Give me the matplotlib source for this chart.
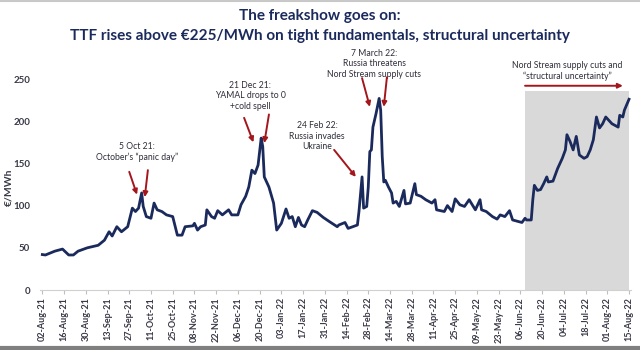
import matplotlib
matplotlib.use('Agg')
import matplotlib.pyplot as plt
import matplotlib.dates as mdates
import pandas as pd

plt.rcParams['font.family'] = ['Lato', 'DejaVu Sans']

# TTF front-month price, EUR/MWh
dates = [
    '2021-08-02', '2021-08-04', '2021-08-10', '2021-08-15', '2021-08-19', '2021-08-22',
    '2021-08-25', '2021-08-31', '2021-09-07', '2021-09-11', '2021-09-14', '2021-09-16',
    '2021-09-19', '2021-09-22', '2021-09-26', '2021-09-29', '2021-10-01', '2021-10-03',
    '2021-10-05', '2021-10-06', '2021-10-08', '2021-10-11', '2021-10-13', '2021-10-15',
    '2021-10-18', '2021-10-21', '2021-10-25', '2021-10-28', '2021-10-31', '2021-11-02',
    '2021-11-07', '2021-11-08', '2021-11-10', '2021-11-12', '2021-11-15', '2021-11-16',
    '2021-11-19', '2021-11-21', '2021-11-23', '2021-11-26', '2021-11-30', '2021-12-02',
    '2021-12-06', '2021-12-08', '2021-12-11', '2021-12-13', '2021-12-15', '2021-12-17',
    '2021-12-19', '2021-12-21', '2021-12-22', '2021-12-23', '2021-12-26', '2021-12-29',
    '2021-12-31', '2022-01-03', '2022-01-06', '2022-01-08', '2022-01-10', '2022-01-12',
    '2022-01-14', '2022-01-16', '2022-01-18', '2022-01-20', '2022-01-23', '2022-01-26',
    '2022-01-30', '2022-02-03', '2022-02-08', '2022-02-09', '2022-02-13', '2022-02-15',
    '2022-02-18', '2022-02-21', '2022-02-22', '2022-02-24', '2022-02-25', '2022-02-27',
    '2022-02-28', '2022-03-01', '2022-03-02', '2022-03-03', '2022-03-05', '2022-03-07',
    '2022-03-08', '2022-03-09', '2022-03-10', '2022-03-11', '2022-03-13', '2022-03-15',
    '2022-03-16', '2022-03-18', '2022-03-20', '2022-03-23', '2022-03-24', '2022-03-27',
    '2022-03-30', '2022-03-31', '2022-04-03', '2022-04-06', '2022-04-10', '2022-04-12',
    '2022-04-13', '2022-04-18', '2022-04-20', '2022-04-23', '2022-04-25', '2022-04-28',
    '2022-05-01', '2022-05-04', '2022-05-08', '2022-05-11', '2022-05-12', '2022-05-15',
    '2022-05-19', '2022-05-22', '2022-05-24', '2022-05-27', '2022-05-30', '2022-06-01',
    '2022-06-05', '2022-06-07', '2022-06-09', '2022-06-10', '2022-06-13', '2022-06-14',
    '2022-06-15', '2022-06-17', '2022-06-19', '2022-06-21', '2022-06-23', '2022-06-24',
    '2022-06-27', '2022-06-30', '2022-07-03', '2022-07-05', '2022-07-06', '2022-07-08',
    '2022-07-10', '2022-07-12', '2022-07-14', '2022-07-17', '2022-07-19', '2022-07-21',
    '2022-07-23', '2022-07-25', '2022-07-27', '2022-07-29', '2022-07-31', '2022-08-04',
    '2022-08-08', '2022-08-09', '2022-08-11', '2022-08-12', '2022-08-15',
]
prices = [
    42, 41.5, 46, 48.5, 41.5, 41.5,
    46, 50, 53, 59, 69, 64,
    75, 69, 75, 97, 93, 97,
    115, 99, 87, 85, 103, 95,
    93, 89, 87, 65, 65, 75,
    76, 79, 71, 75, 77, 95,
    87, 85, 94, 89, 95, 89,
    89, 101, 111, 122, 142, 138,
    148, 180, 170, 134, 122, 103,
    71, 79, 96, 85, 87, 75,
    86, 77, 75, 83, 94, 92,
    86, 81, 75, 77, 80, 73,
    75, 77, 93, 134, 97, 99,
    122, 164, 166, 193, 209, 227,
    213, 158, 128, 130, 122, 115,
    103, 105, 99, 118, 102, 103,
    126, 113, 111, 107, 103, 107,
    95, 93, 100, 93, 108, 101,
    99, 107, 95, 107, 95, 93,
    87, 84, 89, 87, 94, 83,
    81, 80, 85, 83, 83, 107,
    124, 118, 119, 126, 134, 128,
    129, 144, 156, 166, 184, 176,
    166, 182, 160, 156, 158, 166,
    178, 205, 192, 197, 205, 197,
    193, 207, 205, 213, 226,
]

tick_start = '2021-08-02'
tick_end = '2022-08-15'
shade_start = '2022-06-09'
shade_top = 236

navy = '#1b2a5c'
red = '#a3171c'
txt = '#2e2e3a'

d = pd.to_datetime(dates)
t0 = pd.Timestamp(tick_start)
t1 = pd.Timestamp(tick_end)

fig = plt.figure(figsize=(6.4, 3.5), dpi=100)
ax = fig.add_axes([0.0625, 0.1714, 0.924, 0.627])

ax.fill_between([pd.Timestamp(shade_start), t1], 0, shade_top,
                color='#d9d9d9', lw=0, zorder=0)
ax.plot(d, prices, color=navy, lw=2.0, zorder=3)

ax.set_xlim(t0 - pd.Timedelta(days=1.5), t1 + pd.Timedelta(days=1.5))
ax.set_ylim(0, 260)
ax.set_yticks(range(0, 251, 50))
ax.set_xticks(pd.date_range(t0, t1, freq='14D'))
ax.xaxis.set_major_formatter(mdates.DateFormatter('%d-%b-%y'))
ax.tick_params(axis='x', rotation=90, labelsize=6.5, length=3, color='#bfbfbf',
               labelcolor='#3a3a48', pad=2)
ax.tick_params(axis='y', length=0, labelsize=7, labelcolor='#3a3a48', pad=7)
for lab in ax.get_xticklabels() + ax.get_yticklabels():
    lab.set_fontweight('bold')
for s in ['top', 'right', 'left']:
    ax.spines[s].set_visible(False)
ax.spines['bottom'].set_color('#d0d0d0')
ax.set_ylabel('€/MWh', fontsize=7.5, fontweight='bold', color='#3a3a48')
ax.yaxis.set_label_coords(-0.045, 0.47)

fig.text(0.5, 0.955, 'The freakshow goes on:', ha='center', va='center',
         fontsize=11, fontweight='bold', color=navy)
fig.text(0.5, 0.898, 'TTF rises above €225/MWh on tight fundamentals, structural uncertainty',
         ha='center', va='center', fontsize=11, fontweight='bold', color=navy)

T = pd.Timestamp
arrow = dict(arrowstyle='-|>', color=red, lw=1.4, mutation_scale=7, shrinkA=0, shrinkB=0)
kw = dict(ha='center', va='center', fontsize=6.2, color=txt, linespacing=1.2)

ax.text(T('2021-10-02'), 164, '5 Oct 21:\nOctober\u2019s \u201cpanic day\u201d', **kw)
ax.annotate('', xy=(T('2021-10-02'), 113), xytext=(T('2021-09-27'), 140), arrowprops=arrow)
ax.annotate('', xy=(T('2021-10-07'), 110), xytext=(T('2021-10-09'), 142), arrowprops=arrow)

ax.text(T('2021-12-14'), 230, '21 Dec 21:\nYAMAL drops to 0\n+cold spell', **kw)
ax.annotate('', xy=(T('2021-12-16'), 175), xytext=(T('2021-12-10'), 204), arrowprops=arrow)
ax.annotate('', xy=(T('2021-12-23'), 174), xytext=(T('2021-12-26'), 208), arrowprops=arrow)

ax.text(T('2022-01-26'), 182, '24 Feb 22:\nRussia invades\nUkraine', **kw)
ax.annotate('', xy=(T('2022-02-20'), 134), xytext=(T('2022-02-06'), 166), arrowprops=arrow)

ax.text(T('2022-03-04'), 268, '7 March 22:\nRussia threatens\nNord Stream supply cuts', **kw)
ax.annotate('', xy=(T('2022-03-01'), 217), xytext=(T('2022-02-24'), 251), arrowprops=arrow,
            annotation_clip=False)
ax.annotate('', xy=(T('2022-03-10'), 217), xytext=(T('2022-03-12'), 252), arrowprops=arrow,
            annotation_clip=False)

ax.text(T('2022-07-06'), 259, 'Nord Stream supply cuts and\n\u201cstructural uncertainty\u201d', **kw)
ax.annotate('', xy=(T('2022-08-11'), 242), xytext=(T(shade_start), 242), arrowprops=arrow,
            annotation_clip=False)

# thin frame lines at top and bottom of the slide
fig.add_artist(plt.Line2D([0, 1], [0.996, 0.996], color='#c8c8c8', lw=1.5))
fig.add_artist(plt.Line2D([0, 1], [0.006, 0.006], color='#7f7f7f', lw=3))

fig.savefig('out.png', dpi=100)
